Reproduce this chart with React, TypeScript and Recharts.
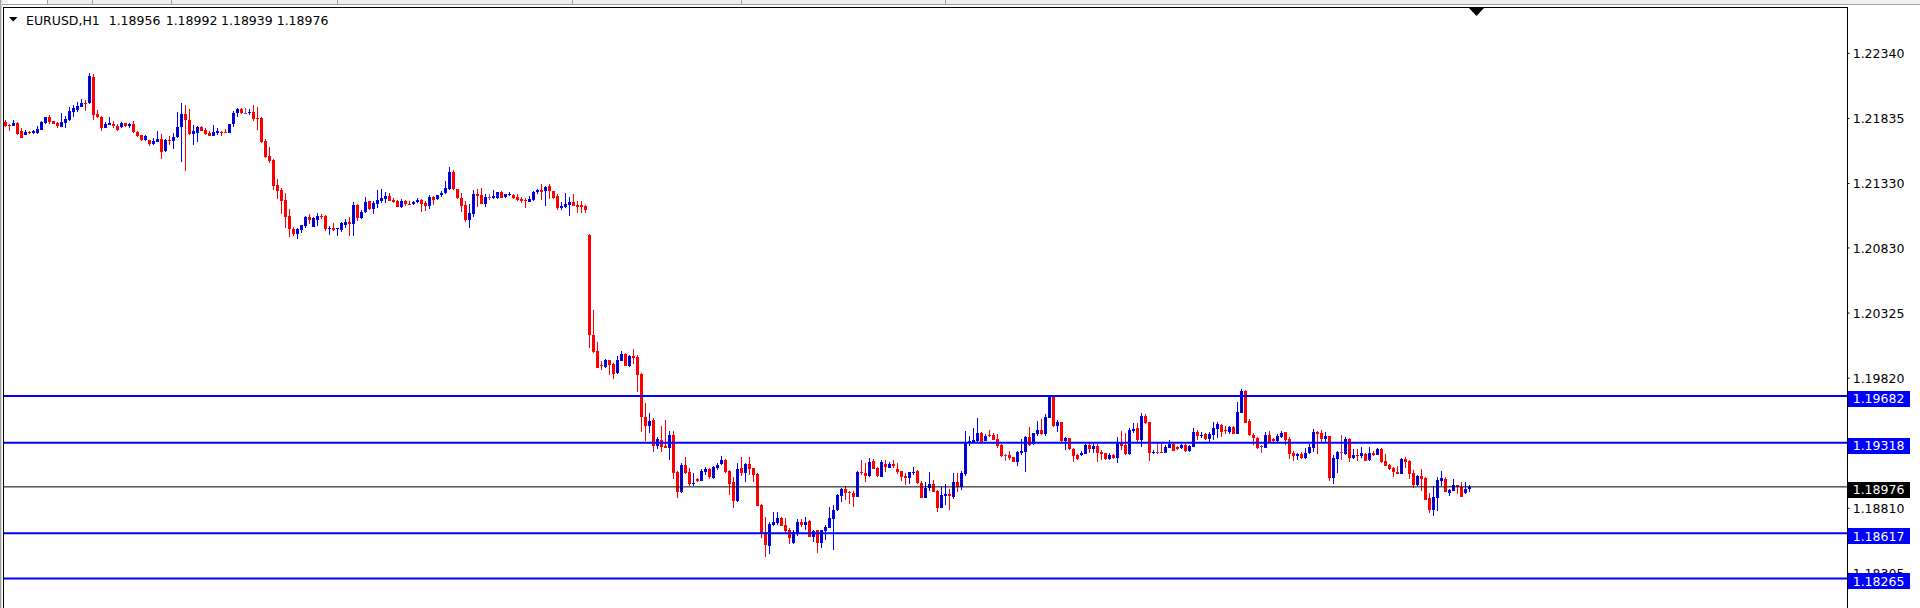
import React from 'react';
import { ComposedChart, Bar, XAxis, YAxis, ReferenceLine } from 'recharts';

type OHLC = [number, number, number, number]; // open, high, low, close

// Hourly EURUSD candles, left to right (open, high, low, close)
const candlesA: OHLC[] = [
  [1.21809,1.21822,1.21771,1.21778],[1.21781,1.21789,1.21740,1.21778],[1.21778,1.21820,1.21773,1.21802],
  [1.21799,1.21807,1.21706,1.21714],[1.21740,1.21758,1.21683,1.21685],[1.21709,1.21745,1.21706,1.21729],
  [1.21732,1.21737,1.21716,1.21719],[1.21719,1.21742,1.21716,1.21734],[1.21721,1.21778,1.21716,1.21752],
  [1.21745,1.21812,1.21742,1.21807],[1.21796,1.21848,1.21791,1.21846],[1.21846,1.21861,1.21791,1.21804],
  [1.21815,1.21817,1.21789,1.21794],[1.21802,1.21809,1.21758,1.21778],[1.21771,1.21879,1.21765,1.21809],
  [1.21802,1.21856,1.21763,1.21830],[1.21822,1.21926,1.21812,1.21892],[1.21884,1.21936,1.21846,1.21918],
  [1.21903,1.21962,1.21884,1.21934],[1.21926,1.21983,1.21923,1.21957],[1.21954,1.21978,1.21895,1.21949],
  [1.21952,1.22185,1.21949,1.22164],[1.22156,1.22177,1.21820,1.21861],[1.21869,1.21900,1.21835,1.21843],
  [1.21846,1.21853,1.21740,1.21763],[1.21763,1.21809,1.21758,1.21794],[1.21786,1.21843,1.21781,1.21802],
  [1.21794,1.21815,1.21763,1.21773],[1.21778,1.21794,1.21737,1.21745],[1.21765,1.21807,1.21763,1.21802],
  [1.21796,1.21802,1.21771,1.21778],[1.21778,1.21796,1.21763,1.21794],[1.21794,1.21812,1.21724,1.21729],
  [1.21729,1.21737,1.21693,1.21698],[1.21703,1.21706,1.21659,1.21667],[1.21667,1.21706,1.21659,1.21698],
  [1.21667,1.21670,1.21621,1.21636],[1.21636,1.21680,1.21631,1.21659],[1.21654,1.21737,1.21649,1.21675],
  [1.21675,1.21714,1.21520,1.21577],[1.21582,1.21675,1.21577,1.21667],[1.21667,1.21696,1.21628,1.21657],
  [1.21657,1.21724,1.21595,1.21688],[1.21688,1.21884,1.21685,1.21765],[1.21768,1.21952,1.21496,1.21869],
  [1.21869,1.21936,1.21427,1.21822],[1.21822,1.21908,1.21709,1.21714],[1.21714,1.21781,1.21626,1.21740],
  [1.21724,1.21776,1.21649,1.21765],[1.21765,1.21778,1.21737,1.21740],[1.21742,1.21758,1.21706,1.21714],
  [1.21724,1.21737,1.21698,1.21701],[1.21701,1.21781,1.21698,1.21729],[1.21721,1.21758,1.21709,1.21737],
  [1.21732,1.21740,1.21701,1.21727],[1.21732,1.21752,1.21721,1.21727],[1.21724,1.21791,1.21721,1.21789],
  [1.21789,1.21890,1.21768,1.21877],[1.21874,1.21913,1.21843,1.21905],[1.21905,1.21913,1.21871,1.21874],
  [1.21879,1.21913,1.21869,1.21879],[1.21874,1.21908,1.21861,1.21884],
];

const candlesB: OHLC[] = [
  [1.21882,1.21939,1.21817,1.21830],[1.21838,1.21923,1.21745,1.21833],[1.21838,1.21848,1.21641,1.21652],
  [1.21660,1.21675,1.21525,1.21538],[1.21541,1.21613,1.21491,1.21507],[1.21512,1.21517,1.21279,1.21310],
  [1.21316,1.21365,1.21209,1.21272],[1.21279,1.21297,1.21093,1.21197],[1.21202,1.21253,1.20984,1.21072],
  [1.21078,1.21132,1.20912,1.20977],[1.20977,1.20995,1.20922,1.20938],[1.20938,1.20982,1.20899,1.20977],
  [1.20969,1.21010,1.20948,1.21005],[1.21003,1.21078,1.20984,1.21072],[1.21072,1.21093,1.21015,1.21047],
  [1.20995,1.21067,1.20992,1.21062],[1.21047,1.21098,1.21000,1.21078],[1.21078,1.21090,1.21057,1.21072],
  [1.21078,1.21083,1.20964,1.20977],[1.20982,1.21003,1.20933,1.20987],[1.20984,1.21021,1.20964,1.20969],
  [1.20977,1.20984,1.20925,1.20982],[1.20971,1.21034,1.20951,1.21021],[1.21008,1.21054,1.20984,1.21031],
  [1.21031,1.21072,1.20925,1.21015],[1.21013,1.21186,1.20920,1.21160],[1.21160,1.21171,1.21041,1.21065],
  [1.21065,1.21122,1.21057,1.21106],[1.21106,1.21225,1.21098,1.21186],[1.21191,1.21194,1.21124,1.21132],
  [1.21134,1.21191,1.21093,1.21178],[1.21173,1.21279,1.21142,1.21202],[1.21197,1.21287,1.21176,1.21217],
  [1.21212,1.21264,1.21181,1.21233],[1.21233,1.21253,1.21194,1.21197],[1.21204,1.21215,1.21176,1.21189],
  [1.21194,1.21199,1.21147,1.21150],[1.21150,1.21209,1.21142,1.21194],[1.21194,1.21202,1.21155,1.21168],
  [1.21173,1.21194,1.21165,1.21168],[1.21168,1.21191,1.21160,1.21186],[1.21186,1.21220,1.21181,1.21204],
  [1.21202,1.21207,1.21111,1.21173],[1.21178,1.21194,1.21119,1.21158],[1.21158,1.21238,1.21134,1.21227],
  [1.21227,1.21233,1.21163,1.21204],[1.21207,1.21243,1.21202,1.21238],[1.21238,1.21269,1.21227,1.21259],
  [1.21253,1.21349,1.21248,1.21295],[1.21285,1.21458,1.21279,1.21419],[1.21419,1.21435,1.21279,1.21285],
  [1.21287,1.21290,1.21209,1.21215],[1.21217,1.21256,1.21109,1.21155],[1.21160,1.21191,1.21031,1.21047],
  [1.21049,1.21171,1.20987,1.21101],[1.21090,1.21279,1.21072,1.21248],[1.21248,1.21285,1.21150,1.21233],
  [1.21238,1.21297,1.21171,1.21173],[1.21173,1.21248,1.21147,1.21225],[1.21222,1.21251,1.21202,1.21222],
  [1.21220,1.21279,1.21207,1.21233],[1.21220,1.21266,1.21207,1.21264],[1.21261,1.21269,1.21217,1.21220],
  [1.21222,1.21248,1.21217,1.21246],[1.21243,1.21264,1.21235,1.21248],[1.21240,1.21246,1.21209,1.21217],
  [1.21227,1.21248,1.21197,1.21204],[1.21212,1.21222,1.21181,1.21197],[1.21204,1.21215,1.21140,1.21199],
  [1.21186,1.21233,1.21184,1.21209],[1.21202,1.21269,1.21197,1.21264],[1.21261,1.21290,1.21251,1.21279],
  [1.21279,1.21328,1.21202,1.21266],[1.21274,1.21310,1.21155,1.21305],[1.21310,1.21326,1.21212,1.21269],
  [1.21269,1.21272,1.21212,1.21220],[1.21233,1.21246,1.21124,1.21142],[1.21142,1.21189,1.21122,1.21158],
  [1.21145,1.21259,1.21137,1.21168],[1.21165,1.21227,1.21080,1.21186],[1.21186,1.21248,1.21153,1.21158],
  [1.21163,1.21197,1.21098,1.21150],[1.21163,1.21197,1.21098,1.21147],[1.21158,1.21163,1.21098,1.21122],
];

const candlesC: OHLC[] = [
  [1.20930,1.20936,1.20056,1.20154],[1.20154,1.20348,1.20012,1.20020],[1.20030,1.20100,1.19896,1.19901],
  [1.19919,1.19950,1.19883,1.19914],[1.19903,1.19971,1.19896,1.19960],[1.19960,1.19963,1.19844,1.19921],
  [1.19932,1.19937,1.19813,1.19854],[1.19857,1.19991,1.19852,1.19960],[1.19955,1.20030,1.19950,1.20007],
  [1.20007,1.20017,1.19911,1.19914],[1.19914,1.19999,1.19909,1.19991],[1.19994,1.20046,1.19927,1.19976],
  [1.19984,1.19999,1.19715,1.19844],[1.19852,1.19857,1.19404,1.19520],[1.19520,1.19629,1.19334,1.19451],
  [1.19451,1.19546,1.19396,1.19487],[1.19495,1.19508,1.19244,1.19295],[1.19295,1.19360,1.19267,1.19347],
  [1.19339,1.19448,1.19249,1.19288],[1.19295,1.19495,1.19275,1.19280],[1.19280,1.19409,1.19187,1.19376],
  [1.19376,1.19409,1.19039,1.19086],[1.19091,1.19096,1.18892,1.18938],[1.18938,1.19158,1.18931,1.19145],
  [1.19145,1.19207,1.19075,1.19081],[1.19088,1.19122,1.18985,1.18995],[1.19003,1.19081,1.18985,1.19008],
  [1.19034,1.19042,1.19016,1.19021],[1.19021,1.19112,1.19018,1.19099],[1.19094,1.19128,1.19066,1.19115],
  [1.19115,1.19120,1.19037,1.19050],[1.19042,1.19141,1.19037,1.19133],[1.19125,1.19164,1.19107,1.19146],
  [1.19154,1.19216,1.19148,1.19185],[1.19185,1.19190,1.19086,1.19094],[1.19102,1.19107,1.18913,1.19001],
  [1.19014,1.19055,1.18815,1.18866],[1.18866,1.19164,1.18861,1.19112],[1.19125,1.19210,1.19063,1.19086],
  [1.19086,1.19161,1.19011,1.19154],[1.19154,1.19208,1.19066,1.19117],[1.19120,1.19125,1.19016,1.19068],
  [1.19078,1.19084,1.18828,1.18830],[1.18835,1.18841,1.18577,1.18621],[1.18628,1.18740,1.18434,1.18525],
  [1.18520,1.18701,1.18458,1.18688],[1.18680,1.18784,1.18675,1.18703],[1.18696,1.18781,1.18680,1.18734],
  [1.18734,1.18745,1.18672,1.18675],[1.18678,1.18737,1.18621,1.18634],[1.18641,1.18659,1.18530,1.18582],
  [1.18538,1.18641,1.18533,1.18628],[1.18621,1.18727,1.18595,1.18703],[1.18703,1.18729,1.18667,1.18680],
  [1.18683,1.18745,1.18641,1.18703],[1.18714,1.18719,1.18587,1.18590],[1.18584,1.18641,1.18548,1.18636],
  [1.18639,1.18644,1.18460,1.18538],[1.18543,1.18644,1.18499,1.18639],[1.18634,1.18678,1.18564,1.18665],
  [1.18659,1.18817,1.18657,1.18732],[1.18729,1.18835,1.18486,1.18797],[1.18794,1.18921,1.18789,1.18910],
  [1.18908,1.18965,1.18859,1.18957],[1.18957,1.18980,1.18874,1.18931],[1.18934,1.18947,1.18843,1.18928],
  [1.18931,1.18941,1.18822,1.18900],[1.18900,1.19102,1.18895,1.19091],[1.19091,1.19185,1.19071,1.19081],
  [1.19084,1.19159,1.19014,1.19063],[1.19063,1.19200,1.19055,1.19169],[1.19174,1.19195,1.19112,1.19117],
  [1.19122,1.19133,1.19055,1.19060],[1.19055,1.19185,1.19050,1.19166],[1.19156,1.19185,1.19089,1.19128],
  [1.19125,1.19166,1.19120,1.19156],[1.19156,1.19185,1.19125,1.19141],[1.19115,1.19164,1.19076,1.19089],
  [1.19097,1.19102,1.19024,1.19055],[1.19063,1.19081,1.18988,1.19042],[1.19042,1.19094,1.18998,1.19089],
  [1.19081,1.19133,1.19068,1.19094],[1.19099,1.19104,1.18998,1.19004],[1.19009,1.19022,1.18890,1.18892],
  [1.18892,1.19016,1.18890,1.18970],[1.18965,1.19094,1.18947,1.18998],[1.18998,1.19029,1.18936,1.18939],
  [1.18944,1.18952,1.18781,1.18815],[1.18815,1.18978,1.18812,1.18910],[1.18908,1.18998,1.18833,1.18921],
  [1.18921,1.18957,1.18797,1.18908],[1.18900,1.19081,1.18879,1.19013],[1.19013,1.19081,1.18938,1.18972],
  [1.18972,1.19101,1.18951,1.19081],[1.19078,1.19409,1.19060,1.19316],
];

const candlesD: OHLC[] = [
  [1.19313,1.19370,1.19293,1.19332],[1.19321,1.19430,1.19313,1.19339],[1.19332,1.19507,1.19313,1.19394],
  [1.19396,1.19404,1.19311,1.19313],[1.19334,1.19383,1.19332,1.19370],[1.19378,1.19417,1.19365,1.19373],
  [1.19378,1.19396,1.19337,1.19339],[1.19345,1.19383,1.19275,1.19295],[1.19301,1.19306,1.19210,1.19218],
  [1.19220,1.19231,1.19179,1.19220],[1.19223,1.19254,1.19184,1.19202],[1.19207,1.19210,1.19169,1.19171],
  [1.19171,1.19254,1.19138,1.19246],[1.19241,1.19345,1.19223,1.19257],[1.19249,1.19370,1.19091,1.19360],
  [1.19360,1.19440,1.19295,1.19301],[1.19306,1.19396,1.19301,1.19391],[1.19383,1.19484,1.19373,1.19414],
  [1.19417,1.19505,1.19378,1.19386],[1.19386,1.19539,1.19373,1.19515],[1.19513,1.19686,1.19508,1.19676],
  [1.19676,1.19681,1.19443,1.19451],[1.19451,1.19492,1.19399,1.19479],[1.19479,1.19482,1.19324,1.19329],
  [1.19332,1.19365,1.19262,1.19352],[1.19352,1.19357,1.19262,1.19267],[1.19270,1.19275,1.19171,1.19218],
  [1.19223,1.19231,1.19184,1.19192],[1.19223,1.19254,1.19218,1.19238],[1.19233,1.19308,1.19228,1.19298],
  [1.19298,1.19313,1.19241,1.19272],[1.19272,1.19313,1.19241,1.19293],[1.19293,1.19308,1.19171,1.19241],
  [1.19249,1.19262,1.19184,1.19233],[1.19236,1.19241,1.19184,1.19189],[1.19189,1.19236,1.19184,1.19220],
  [1.19220,1.19231,1.19195,1.19202],[1.19202,1.19365,1.19158,1.19321],[1.19321,1.19409,1.19262,1.19293],
  [1.19298,1.19391,1.19226,1.19228],[1.19228,1.19435,1.19223,1.19417],[1.19412,1.19474,1.19391,1.19427],
  [1.19433,1.19469,1.19313,1.19339],[1.19339,1.19546,1.19288,1.19526],[1.19526,1.19541,1.19464,1.19474],
  [1.19477,1.19482,1.19179,1.19241],[1.19236,1.19262,1.19231,1.19246],[1.19246,1.19319,1.19231,1.19246],
  [1.19249,1.19324,1.19241,1.19244],[1.19241,1.19298,1.19236,1.19282],[1.19280,1.19339,1.19275,1.19306],
  [1.19306,1.19313,1.19251,1.19257],[1.19288,1.19293,1.19262,1.19270],[1.19275,1.19306,1.19267,1.19298],
  [1.19298,1.19306,1.19246,1.19254],[1.19254,1.19298,1.19249,1.19293],[1.19288,1.19430,1.19282,1.19404],
  [1.19401,1.19417,1.19339,1.19373],[1.19373,1.19401,1.19357,1.19381],[1.19386,1.19391,1.19339,1.19345],
  [1.19345,1.19404,1.19326,1.19383],[1.19381,1.19476,1.19339,1.19430],[1.19425,1.19479,1.19352,1.19464],
  [1.19456,1.19461,1.19360,1.19404],[1.19420,1.19448,1.19386,1.19414],[1.19404,1.19448,1.19383,1.19440],
  [1.19443,1.19445,1.19383,1.19389],[1.19389,1.19634,1.19383,1.19557],[1.19552,1.19735,1.19546,1.19720],
  [1.19720,1.19727,1.19471,1.19474],[1.19487,1.19500,1.19370,1.19376],[1.19376,1.19391,1.19301,1.19352],
  [1.19355,1.19360,1.19270,1.19280],[1.19293,1.19301,1.19241,1.19293],[1.19280,1.19404,1.19275,1.19379],
  [1.19379,1.19410,1.19314,1.19319],[1.19345,1.19355,1.19309,1.19329],[1.19332,1.19386,1.19322,1.19368],
  [1.19366,1.19407,1.19353,1.19397],[1.19402,1.19404,1.19303,1.19342],[1.19347,1.19366,1.19192,1.19234],
  [1.19239,1.19252,1.19179,1.19216],[1.19216,1.19241,1.19187,1.19234],[1.19234,1.19247,1.19192,1.19197],
  [1.19197,1.19280,1.19195,1.19241],[1.19236,1.19309,1.19231,1.19283],[1.19280,1.19423,1.19249,1.19402],
  [1.19404,1.19412,1.19234,1.19389],[1.19394,1.19417,1.19314,1.19347],[1.19347,1.19402,1.19319,1.19371],
  [1.19371,1.19373,1.19022,1.19042],[1.19047,1.19223,1.19001,1.19203],[1.19195,1.19257,1.19086,1.19249],
  [1.19247,1.19379,1.19185,1.19247],[1.19231,1.19360,1.19226,1.19347],[1.19347,1.19353,1.19172,1.19203],
  [1.19203,1.19270,1.19195,1.19223],[1.19223,1.19270,1.19177,1.19213],[1.19216,1.19283,1.19197,1.19236],
  [1.19231,1.19236,1.19177,1.19179],[1.19185,1.19283,1.19179,1.19239],[1.19239,1.19257,1.19213,1.19223],
  [1.19226,1.19275,1.19221,1.19270],[1.19270,1.19275,1.19164,1.19172],[1.19179,1.19231,1.19135,1.19141],
  [1.19146,1.19153,1.19104,1.19115],[1.19125,1.19133,1.19055,1.19089],[1.19091,1.19138,1.19076,1.19078],
  [1.19078,1.19200,1.19076,1.19192],[1.19192,1.19205,1.19125,1.19169],[1.19177,1.19185,1.19037,1.19078],
  [1.19086,1.19107,1.18970,1.18990],[1.18990,1.19068,1.18985,1.19060],[1.19060,1.19115,1.18946,1.19037],
  [1.19045,1.19050,1.18874,1.18877],[1.18892,1.18931,1.18776,1.18796],[1.18796,1.18983,1.18752,1.18897],
  [1.18892,1.19055,1.18789,1.19029],[1.19024,1.19099,1.18985,1.19047],[1.19037,1.19055,1.18936,1.18939],
  [1.18931,1.18959,1.18908,1.18952],[1.18946,1.19037,1.18944,1.18988],[1.18988,1.18990,1.18921,1.18972],
  [1.18978,1.19011,1.18897,1.18900],[1.18926,1.19011,1.18923,1.18962],[1.18956,1.18992,1.18939,1.18976],
];

const SLOT_COUNT = 461; // visible bar slots incl. empty shift area on the right
const PRICE_MIN = 1.18036;
const PRICE_MAX = 1.22692;
const PRICE_TICKS = [1.2234, 1.21835, 1.2133, 1.2083, 1.20325, 1.1982, 1.1881, 1.18305];
const LEVELS = [1.19682, 1.19318, 1.18617, 1.18265];
const BID = 1.18976;
const HEADER_SYMBOL = 'EURUSD,H1';
const HEADER_QUOTES = ['1.18956', '1.18992', '1.18939', '1.18976'];

const FONT = "'DejaVu Sans', Verdana, sans-serif";
const FS = 12.5;
const BULL = '#0000ff';
const BULL_FILL = '#000080';
const BEAR = '#ff0000';
const DOJI = '#b0308c';

const candles: OHLC[] = [...candlesA, ...candlesB, ...candlesC, ...candlesD];

const data = Array.from({ length: SLOT_COUNT }, (_, i) => {
  const k = candles[i];
  return k
    ? { i, range: [k[2], k[1]], o: k[0], h: k[1], l: k[2], c: k[3] }
    : { i, range: null };
});

const Candle = (props: any) => {
  const { x, y, width, height, payload } = props;
  if (!payload || payload.range == null || x == null || y == null) return null;
  const { o, h, l, c } = payload;
  const top = Math.min(y, y + height);
  const bot = Math.max(y, y + height);
  const k = h === l ? 0 : (bot - top) / (h - l);
  const py = (v: number) => top + (h - v) * k;
  const col = Math.floor(x + width / 2 + 0.01);
  const yH = Math.round(py(h));
  const yL = Math.round(py(l));
  const yO = Math.round(py(o));
  const yC = Math.round(py(c));
  const bTop = Math.min(yO, yC);
  const bH = Math.max(1, Math.abs(yO - yC));
  const wickH = Math.max(1, yL - yH);
  if (o === c) {
    return (
      <g shapeRendering="crispEdges">
        <rect x={col} y={yH} width={1} height={wickH} fill={DOJI} />
        <rect x={col - 1} y={yO} width={3} height={1} fill={DOJI} />
      </g>
    );
  }
  if (c < o) {
    return (
      <g shapeRendering="crispEdges">
        <rect x={col} y={yH} width={1} height={wickH} fill={BEAR} />
        <rect x={col - 1} y={bTop} width={3} height={bH} fill={BEAR} />
      </g>
    );
  }
  return (
    <g shapeRendering="crispEdges">
      <rect x={col} y={yH} width={1} height={wickH} fill={BULL} />
      <rect x={col - 1} y={bTop} width={3} height={bH} fill={BULL} />
      {bH >= 3 ? <rect x={col} y={bTop + 1} width={1} height={bH - 2} fill={BULL_FILL} /> : null}
    </g>
  );
};

const NoTick = () => <g />;

// Price-scale label, drawn in the same label layer as the level tags so the tags can cover it.
const ScaleLabel = (props: any) => {
  const vb = props.viewBox || {};
  const x = (vb.x ?? 0) + (vb.width ?? 0);
  const y = vb.y ?? 0;
  return (
    <text x={x + 5.2} y={y + 4.6} fontFamily={FONT} fontSize={FS} fill="#000">
      {props.text}
    </text>
  );
};

const PriceTag = (props: any) => {
  const vb = props.viewBox || {};
  const x = (vb.x ?? 0) + (vb.width ?? 0);
  const y = vb.y ?? 0;
  return (
    <g>
      <rect x={x} y={y - 5} width={62.5} height={16} fill={props.bg} shapeRendering="crispEdges" />
      <text x={x + 5.2} y={y + 7.6} fontFamily={FONT} fontSize={FS} fill="#fff">
        {props.text}
      </text>
    </g>
  );
};

const Frame = () => (
  <svg
    width={1920}
    height={608}
    style={{ position: 'absolute', left: 0, top: 0, pointerEvents: 'none' }}
    shapeRendering="crispEdges"
  >
    <rect x={0} y={0} width={1920} height={4} fill="#f0f0f0" />
    <rect x={8} y={0} width={39} height={4} fill="#ffffff" />
    {[47, 92, 171, 337, 572, 741, 945].map((sx) => (
      <rect key={sx} x={sx} y={0} width={1} height={4} fill="#a0a0a0" />
    ))}
    <rect x={0} y={4} width={1920} height={1} fill="#a0a0a0" />
    <rect x={0} y={0} width={1} height={608} fill="#a0a0a0" />
    <rect x={1} y={0} width={1} height={608} fill="#dcdcdc" />
    <rect x={3} y={7} width={1845} height={1} fill="#000" />
    <rect x={3} y={7} width={1} height={601} fill="#000" />
    <polygon points="1469,8 1484,8 1476.5,16" fill="#000" shapeRendering="auto" />
    <polygon points="9,17 17.5,17 13.25,21.5" fill="#000" shapeRendering="auto" />
    <text x={26} y={25.3} fontFamily={FONT} fontSize={FS} fill="#000">
      {HEADER_SYMBOL}
    </text>
    {HEADER_QUOTES.map((q, k) => (
      <text key={k} x={[108.7, 165.7, 221, 276.7][k]} y={25.3} fontFamily={FONT} fontSize={FS} fill="#000">
        {q}
      </text>
    ))}
  </svg>
);

export default function App() {
  return (
    <div
      style={{
        position: 'absolute',
        left: 0,
        top: 0,
        width: 1920,
        height: 608,
        background: '#ffffff',
        overflow: 'hidden',
      }}
    >
      <ComposedChart
        width={1920}
        height={608}
        data={data}
        margin={{ top: 8, right: 0, bottom: 0, left: 3.5 }}
        barCategoryGap={0}
        barGap={0}
      >
        <XAxis dataKey="i" type="category" hide />
        <YAxis
          type="number"
          orientation="right"
          width={72.5}
          domain={[PRICE_MIN, PRICE_MAX]}
          allowDataOverflow
          ticks={PRICE_TICKS}
          interval={0}
          tickSize={2}
          tickMargin={3}
          tick={<NoTick />}
          axisLine={{ stroke: '#000' }}
          tickLine={{ stroke: '#000' }}
        />
        <Bar dataKey="range" shape={<Candle />} isAnimationActive={false} />
        {PRICE_TICKS.map((t) => (
          <ReferenceLine
            key={`t${t}`}
            y={t}
            stroke="none"
            strokeWidth={0}
            label={<ScaleLabel text={t.toFixed(5)} />}
          />
        ))}
        {LEVELS.map((v) => (
          <ReferenceLine
            key={v}
            y={v}
            stroke="#0000ff"
            strokeWidth={2}
            label={<PriceTag bg="#0000ff" text={v.toFixed(5)} />}
          />
        ))}
        <ReferenceLine
          y={BID}
          stroke="#000000"
          strokeWidth={1}
          label={<PriceTag bg="#000000" text={BID.toFixed(5)} />}
        />
      </ComposedChart>
      <Frame />
    </div>
  );
}
